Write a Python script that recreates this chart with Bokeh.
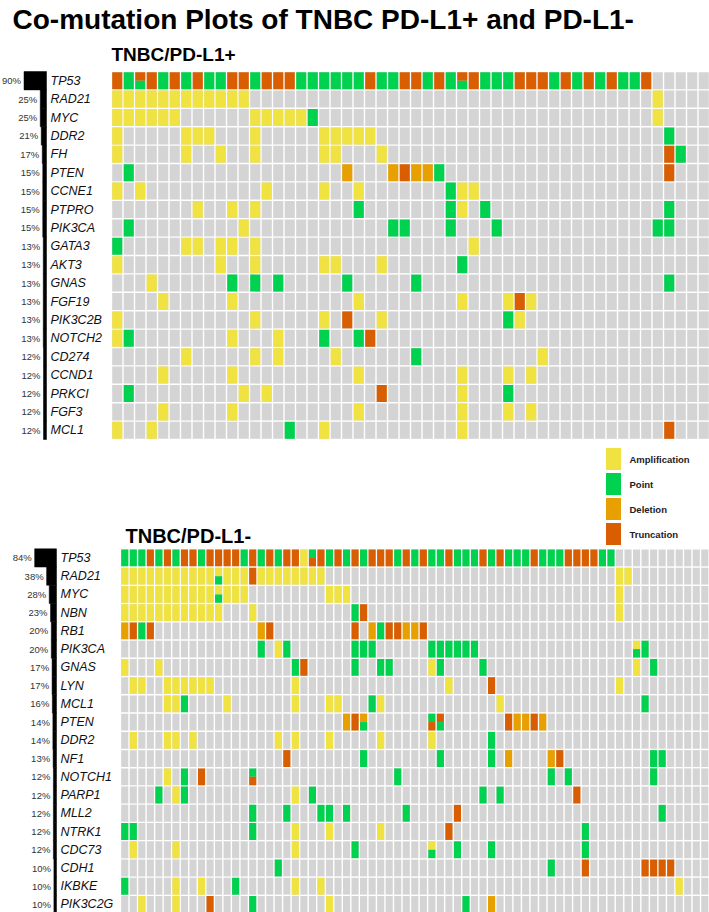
from bokeh.plotting import figure
from bokeh.models import Range1d, ColumnDataSource
from bokeh.embed import file_html
from bokeh.resources import INLINE
from bokeh.core.properties import value

# ---------------- data ----------------
TITLE = "Co-mutation Plots of TNBC PD-L1+ and PD-L1-"
TOP_LABEL = "TNBC/PD-L1+"
BOT_LABEL = "TNBC/PD-L1-"

LEGEND_CODES = ["A", "P", "D", "T"]
LEGEND_LABELS = ["Amplification", "Point", "Deletion", "Truncation"]
COLORS = {"A": "#F0E341", "P": "#00D24F", "D": "#E89F00", "T": "#D95E02", "N": "#D4D4D4"}

TOP_N_SAMPLES = 52
TOP_GENES = ["TP53", "RAD21", "MYC", "DDR2", "FH", "PTEN", "CCNE1", "PTPRO", "PIK3CA", "GATA3",
             "AKT3", "GNAS", "FGF19", "PIK3C2B", "NOTCH2", "CD274", "CCND1", "PRKCI", "FGF3", "MCL1"]
TOP_PCT = [90, 25, 25, 21, 17, 15, 15, 15, 15, 13, 13, 13, 13, 13, 13, 12, 12, 12, 12, 12]
# sample (column) indices per alteration type; "X/Y" = split cell, X on top, Y below
TOP_ALT = {
    "TP53": {"T": [0, 3, 5, 7, 10, 11, 13, 14, 15, 22, 25, 26, 28, 31, 35, 36, 37, 39, 41, 43, 46],
             "P": [1, 4, 6, 8, 9, 12, 16, 17, 18, 19, 20, 21, 23, 24, 27, 29, 32, 33, 34, 38, 40, 42, 44, 45],
             "T/P": [2, 30]},
    "RAD21": {"A": [0, 1, 2, 3, 4, 5, 6, 7, 8, 9, 10, 11, 47]},
    "MYC": {"A": [0, 1, 2, 3, 4, 5, 12, 13, 14, 15, 16, 47], "P": [17]},
    "DDR2": {"A": [0, 6, 7, 8, 12, 18, 19, 20, 21, 22], "P": [48]},
    "FH": {"A": [0, 6, 9, 12, 18, 19, 23], "T": [48], "P": [49]},
    "PTEN": {"P": [1, 28], "D": [20, 24, 26, 27], "T": [25, 48]},
    "CCNE1": {"A": [0, 2, 13, 18, 21, 30, 31], "P": [29]},
    "PTPRO": {"A": [7, 10, 12, 30], "P": [21, 29, 32, 48]},
    "PIK3CA": {"P": [1, 24, 25, 29, 33, 47, 48], "A": [11]},
    "GATA3": {"P": [0], "A": [6, 7, 9, 10, 12, 31]},
    "AKT3": {"A": [0, 9, 12, 18, 19, 23], "P": [30]},
    "GNAS": {"A": [3], "P": [10, 12, 14, 20, 26, 48]},
    "FGF19": {"A": [4, 10, 21, 30, 34, 36], "T": [35]},
    "PIK3C2B": {"A": [0, 12, 18, 23, 35], "T": [20], "P": [34]},
    "NOTCH2": {"A": [0, 10, 14], "P": [1, 18, 21], "T": [22]},
    "CD274": {"A": [6, 12, 14, 19, 37], "P": [26]},
    "CCND1": {"A": [4, 10, 21, 30, 34, 36]},
    "PRKCI": {"P": [1, 34], "A": [11, 13, 30], "T": [23]},
    "FGF3": {"A": [4, 10, 21, 30, 34, 36]},
    "MCL1": {"A": [0, 3, 18, 30], "P": [15], "T": [48]},
}

BOT_N_SAMPLES = 69
BOT_GENES = ["TP53", "RAD21", "MYC", "NBN", "RB1", "PIK3CA", "GNAS", "LYN", "MCL1", "PTEN",
             "DDR2", "NF1", "NOTCH1", "PARP1", "MLL2", "NTRK1", "CDC73", "CDH1", "IKBKE", "PIK3C2G"]
BOT_PCT = [84, 38, 28, 23, 20, 20, 17, 17, 16, 14, 14, 13, 12, 12, 12, 12, 12, 10, 10, 10]
BOT_ALT = {
    "TP53": {"T": [3, 5, 7, 8, 10, 11, 12, 13, 15, 17, 19, 20, 23, 25, 27, 29, 30, 31, 33, 35, 38, 42,
                   44, 48, 52, 53, 54, 55],
             "P": [0, 1, 2, 4, 6, 9, 14, 16, 18, 24, 26, 28, 32, 34, 36, 37, 39, 40, 41, 43, 45, 46, 47,
                   49, 50, 51, 56, 57],
             "A": [21], "P/T": [22]},
    "RAD21": {"A": [0, 1, 2, 3, 4, 5, 6, 7, 8, 9, 10, 12, 13, 14, 16, 17, 18, 19, 20, 21, 22, 23, 58, 59],
              "A/P": [11], "T": [15]},
    "MYC": {"A": [0, 1, 2, 3, 4, 5, 6, 7, 8, 9, 10, 12, 13, 14, 24, 25, 26, 58], "A/P": [11]},
    "NBN": {"A": [0, 1, 2, 3, 4, 5, 6, 7, 8, 9, 10, 11, 15, 58], "P": [27], "T": [28]},
    "RB1": {"D": [0, 16, 29, 33, 34], "T": [1, 3, 17, 27, 31, 32, 35], "P": [2, 30]},
    "PIK3CA": {"P": [16, 19, 27, 28, 29, 36, 37, 38, 39, 40, 41, 61], "A": [18], "A/P": [60]},
    "GNAS": {"A": [0, 4, 36, 60], "P": [20, 27, 30, 31, 37, 42, 62], "T": [21]},
    "LYN": {"A": [1, 2, 5, 6, 7, 8, 9, 10, 20, 38, 58], "T": [43]},
    "MCL1": {"A": [5, 6, 12, 20, 24, 25, 30, 44], "P": [7, 29, 61]},
    "PTEN": {"D": [26, 46, 47, 49], "T": [27, 45, 48], "D/P": [28], "P/T": [36], "T/P": [37]},
    "DDR2": {"A": [1, 5, 6, 8, 18, 20, 24, 30, 36], "P": [43]},
    "NF1": {"T": [19, 51], "P": [28, 37, 43, 62, 63], "D": [45, 50]},
    "NOTCH1": {"A": [5], "P": [7, 32, 50, 52, 62], "T": [9], "P/T": [15]},
    "PARP1": {"P": [4, 7, 22, 42, 44], "A": [6, 20], "T": [53]},
    "MLL2": {"P": [15, 19, 23, 24, 26, 33, 63], "T": [39]},
    "NTRK1": {"P": [0, 1, 15, 54], "A": [20, 24, 30], "T": [38]},
    "CDC73": {"A": [1, 6, 20], "P": [27, 39, 43, 54], "A/P": [36]},
    "CDH1": {"P": [18, 50], "T": [54, 61, 62, 63, 64]},
    "IKBKE": {"P": [0, 13], "A": [6, 9, 20, 23, 65]},
    "PIK3C2G": {"A": [2, 6, 24], "T": [10], "P": [15, 40], "D": [43]},
}

# ---------------- layout (reference pixel space) ----------------
REF_W, REF_H = 709, 912
W, H = 709, 912
FONT = "Liberation Sans"

p = figure(width=W, height=H, x_range=Range1d(0, REF_W), y_range=Range1d(REF_H, 0),
           output_backend="svg", toolbar_location=None, min_border=0,
           x_axis_type=None, y_axis_type=None)
p.grid.visible = False
p.outline_line_color = None
p.background_fill_color = "white"
p.border_fill_color = "white"


def panel(key, genes, pct, alts, n, x0, cw, y0, rh, bar_right, ppp, label_x):
    xn, yn, pn = key + "_x", key + "_y", key + "_p"
    p.extra_x_ranges[xn] = Range1d(start=(0 - x0) / cw - 0.5, end=(REF_W - x0) / cw - 0.5)
    p.extra_y_ranges[yn] = Range1d(start=(REF_H - y0) / rh - 0.5, end=(0 - y0) / rh - 0.5)
    p.extra_x_ranges[pn] = Range1d(start=bar_right / ppp, end=(bar_right - REF_W) / ppp)
    cell_w = (cw - 1.4) / cw
    cell_h = (rh - 1.4) / rh

    # background grid
    bx, by = [], []
    for r in range(len(genes)):
        for c in range(n):
            bx.append(c)
            by.append(r)
    p.rect(x=bx, y=by, width=cell_w, height=cell_h, fill_color=COLORS["N"], line_color=None,
           x_range_name=xn, y_range_name=yn)

    # alterations
    fx, fy, fh, fc = [], [], [], []
    for r, g in enumerate(genes):
        for code, cols in alts[g].items():
            for c in cols:
                if "/" in code:
                    top, bot = code.split("/")
                    fx += [c, c]
                    fy += [r - cell_h / 4, r + cell_h / 4]
                    fh += [cell_h / 2, cell_h / 2]
                    fc += [COLORS[top], COLORS[bot]]
                else:
                    fx.append(c)
                    fy.append(r)
                    fh.append(cell_h)
                    fc.append(COLORS[code])
    src = ColumnDataSource(dict(x=fx, y=fy, h=fh, c=fc))
    p.rect(x="x", y="y", width=cell_w, height="h", fill_color="c", line_color=None,
           source=src, x_range_name=xn, y_range_name=yn)

    rows = list(range(len(genes)))
    # frequency bars
    p.hbar(y=rows, left=0, right=pct, height=1.0, fill_color="black", line_color="black",
           line_width=0.5, x_range_name=pn, y_range_name=yn)
    p.text(x=pct, y=rows, text=[f"{v}%" for v in pct], x_offset=-3,
           text_align="right", text_baseline="middle", text_font=value(FONT),
           text_font_size="9.5px", text_color="#333333", x_range_name=pn, y_range_name=yn)
    p.text(x=[label_x] * len(genes), y=rows, text=genes, text_align="left",
           text_baseline="middle", text_font=value(FONT), text_font_style="italic",
           text_font_size="12.5px", text_color="#111111", y_range_name=yn)


panel("top", TOP_GENES, TOP_PCT, TOP_ALT, TOP_N_SAMPLES,
      x0=111, cw=11.5, y0=71, rh=18.4, bar_right=46, ppp=0.25, label_x=50)
panel("bot", BOT_GENES, BOT_PCT, BOT_ALT, BOT_N_SAMPLES,
      x0=120, cw=8.53, y0=548.3, rh=18.24, bar_right=56, ppp=0.26, label_x=60)

# titles (vertically centred on the cap height)
p.text(x=[12], y=[19], text=[TITLE], text_font=value(FONT), text_font_style="bold",
       text_font_size="28px", text_color="#000000", text_baseline="middle")
p.text(x=[111], y=[54], text=[TOP_LABEL], text_font=value(FONT), text_font_style="bold",
       text_font_size="19px", text_color="#000000", text_baseline="middle")
p.text(x=[125], y=[535], text=[BOT_LABEL], text_font=value(FONT), text_font_style="bold",
       text_font_size="20px", text_color="#000000", text_baseline="middle")

# legend
lg_y = [458.5 + 25 * i for i in range(len(LEGEND_LABELS))]
p.rect(x=[613] * len(LEGEND_CODES), y=lg_y, width=16, height=23,
       fill_color=[COLORS[c] for c in LEGEND_CODES], line_color="white", line_width=1)
p.text(x=[629] * len(LEGEND_LABELS), y=lg_y, text=LEGEND_LABELS, text_font=value(FONT),
       text_font_style="bold", text_font_size="9.5px", text_color="#222222",
       text_baseline="middle")

open("out.html", "w").write(file_html(p, INLINE))
